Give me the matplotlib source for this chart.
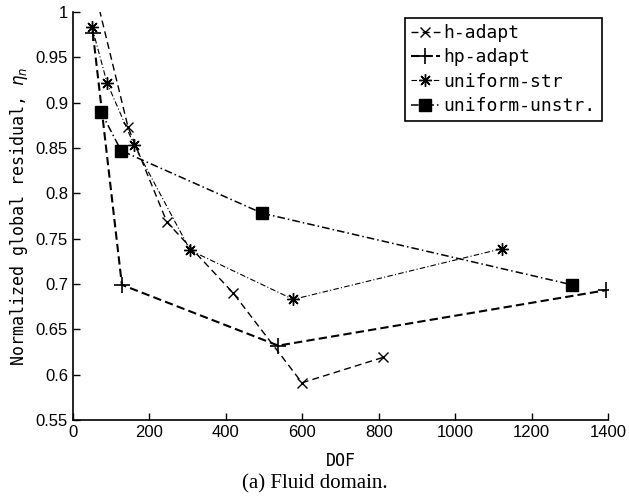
import matplotlib
matplotlib.use("Agg")
import matplotlib.pyplot as plt

# data
h_dof = [62, 144, 246, 419, 599, 811]
h_res = [1.015, 0.873, 0.768, 0.690, 0.591, 0.619]

hp_dof = [52, 128, 537, 1393]
hp_res = [0.977, 0.699, 0.632, 0.693]

ustr_dof = [50, 89, 160, 307, 576, 1123]
ustr_res = [0.983, 0.922, 0.853, 0.737, 0.683, 0.739]

uun_dof = [73, 126, 495, 1306]
uun_res = [0.890, 0.847, 0.778, 0.699]

labels = ['h-adapt', 'hp-adapt', 'uniform-str', 'uniform-unstr.']
xticks = [0, 200, 400, 600, 800, 1000, 1200, 1400]
yticks = [0.55, 0.6, 0.65, 0.7, 0.75, 0.8, 0.85, 0.9, 0.95, 1]

mono = 'DejaVu Sans Mono'

fig = plt.figure(figsize=(6.29, 4.97), dpi=100)
ax = fig.add_axes([0.116, 0.155, 0.851, 0.821])

ax.plot(h_dof, h_res, color='black', linestyle=(0, (5, 3)), lw=1.0,
        marker='x', ms=7, mew=1.0, label=labels[0])
ax.plot(hp_dof, hp_res, color='black', linestyle=(0, (4, 2)), lw=1.5,
        marker='+', ms=11, mew=1.2, label=labels[1])
ax.plot(ustr_dof, ustr_res, color='black', linestyle=(0, (5, 2, 1, 2)), lw=0.8,
        marker=(8, 2, 0), ms=9, mew=1.0, label=labels[2])
ax.plot(uun_dof, uun_res, color='black', linestyle=(0, (5, 2, 1, 2)), lw=1.1,
        marker='s', ms=8, mfc='black', label=labels[3])

ax.set_xlim(0, 1400)
ax.set_ylim(0.55, 1.0)
ax.set_xticks(xticks)
ax.set_xticklabels([str(t) for t in xticks], family='Liberation Sans', fontsize=12)
ax.set_yticks(yticks)
ax.set_yticklabels([f'{t:g}' for t in yticks], family='Liberation Sans', fontsize=12)
ax.tick_params(direction='in', length=5, width=1)
for s in ['top', 'right']:
    ax.spines[s].set_visible(False)
for s in ['left', 'bottom']:
    ax.spines[s].set_linewidth(1.2)

ax.set_xlabel('DOF', family=mono, fontsize=12, labelpad=9)
ax.set_ylabel(r'Normalized global residual, $\eta_n$', family=mono, fontsize=12, labelpad=4)

leg = ax.legend(loc='upper right', bbox_to_anchor=(0.995, 0.995), prop={'family': mono, 'size': 13},
                handlelength=1.6, handletextpad=0.2, borderpad=0.35, labelspacing=0.35,
                fancybox=False, framealpha=1, borderaxespad=0.2)
leg.get_frame().set_edgecolor('black')
leg.get_frame().set_linewidth(1.2)

fig.text(0.5, 0.026, '(a) Fluid domain.', ha='center', va='center',
         family='Liberation Serif', fontsize=15)

fig.savefig('out.png', dpi=100)
